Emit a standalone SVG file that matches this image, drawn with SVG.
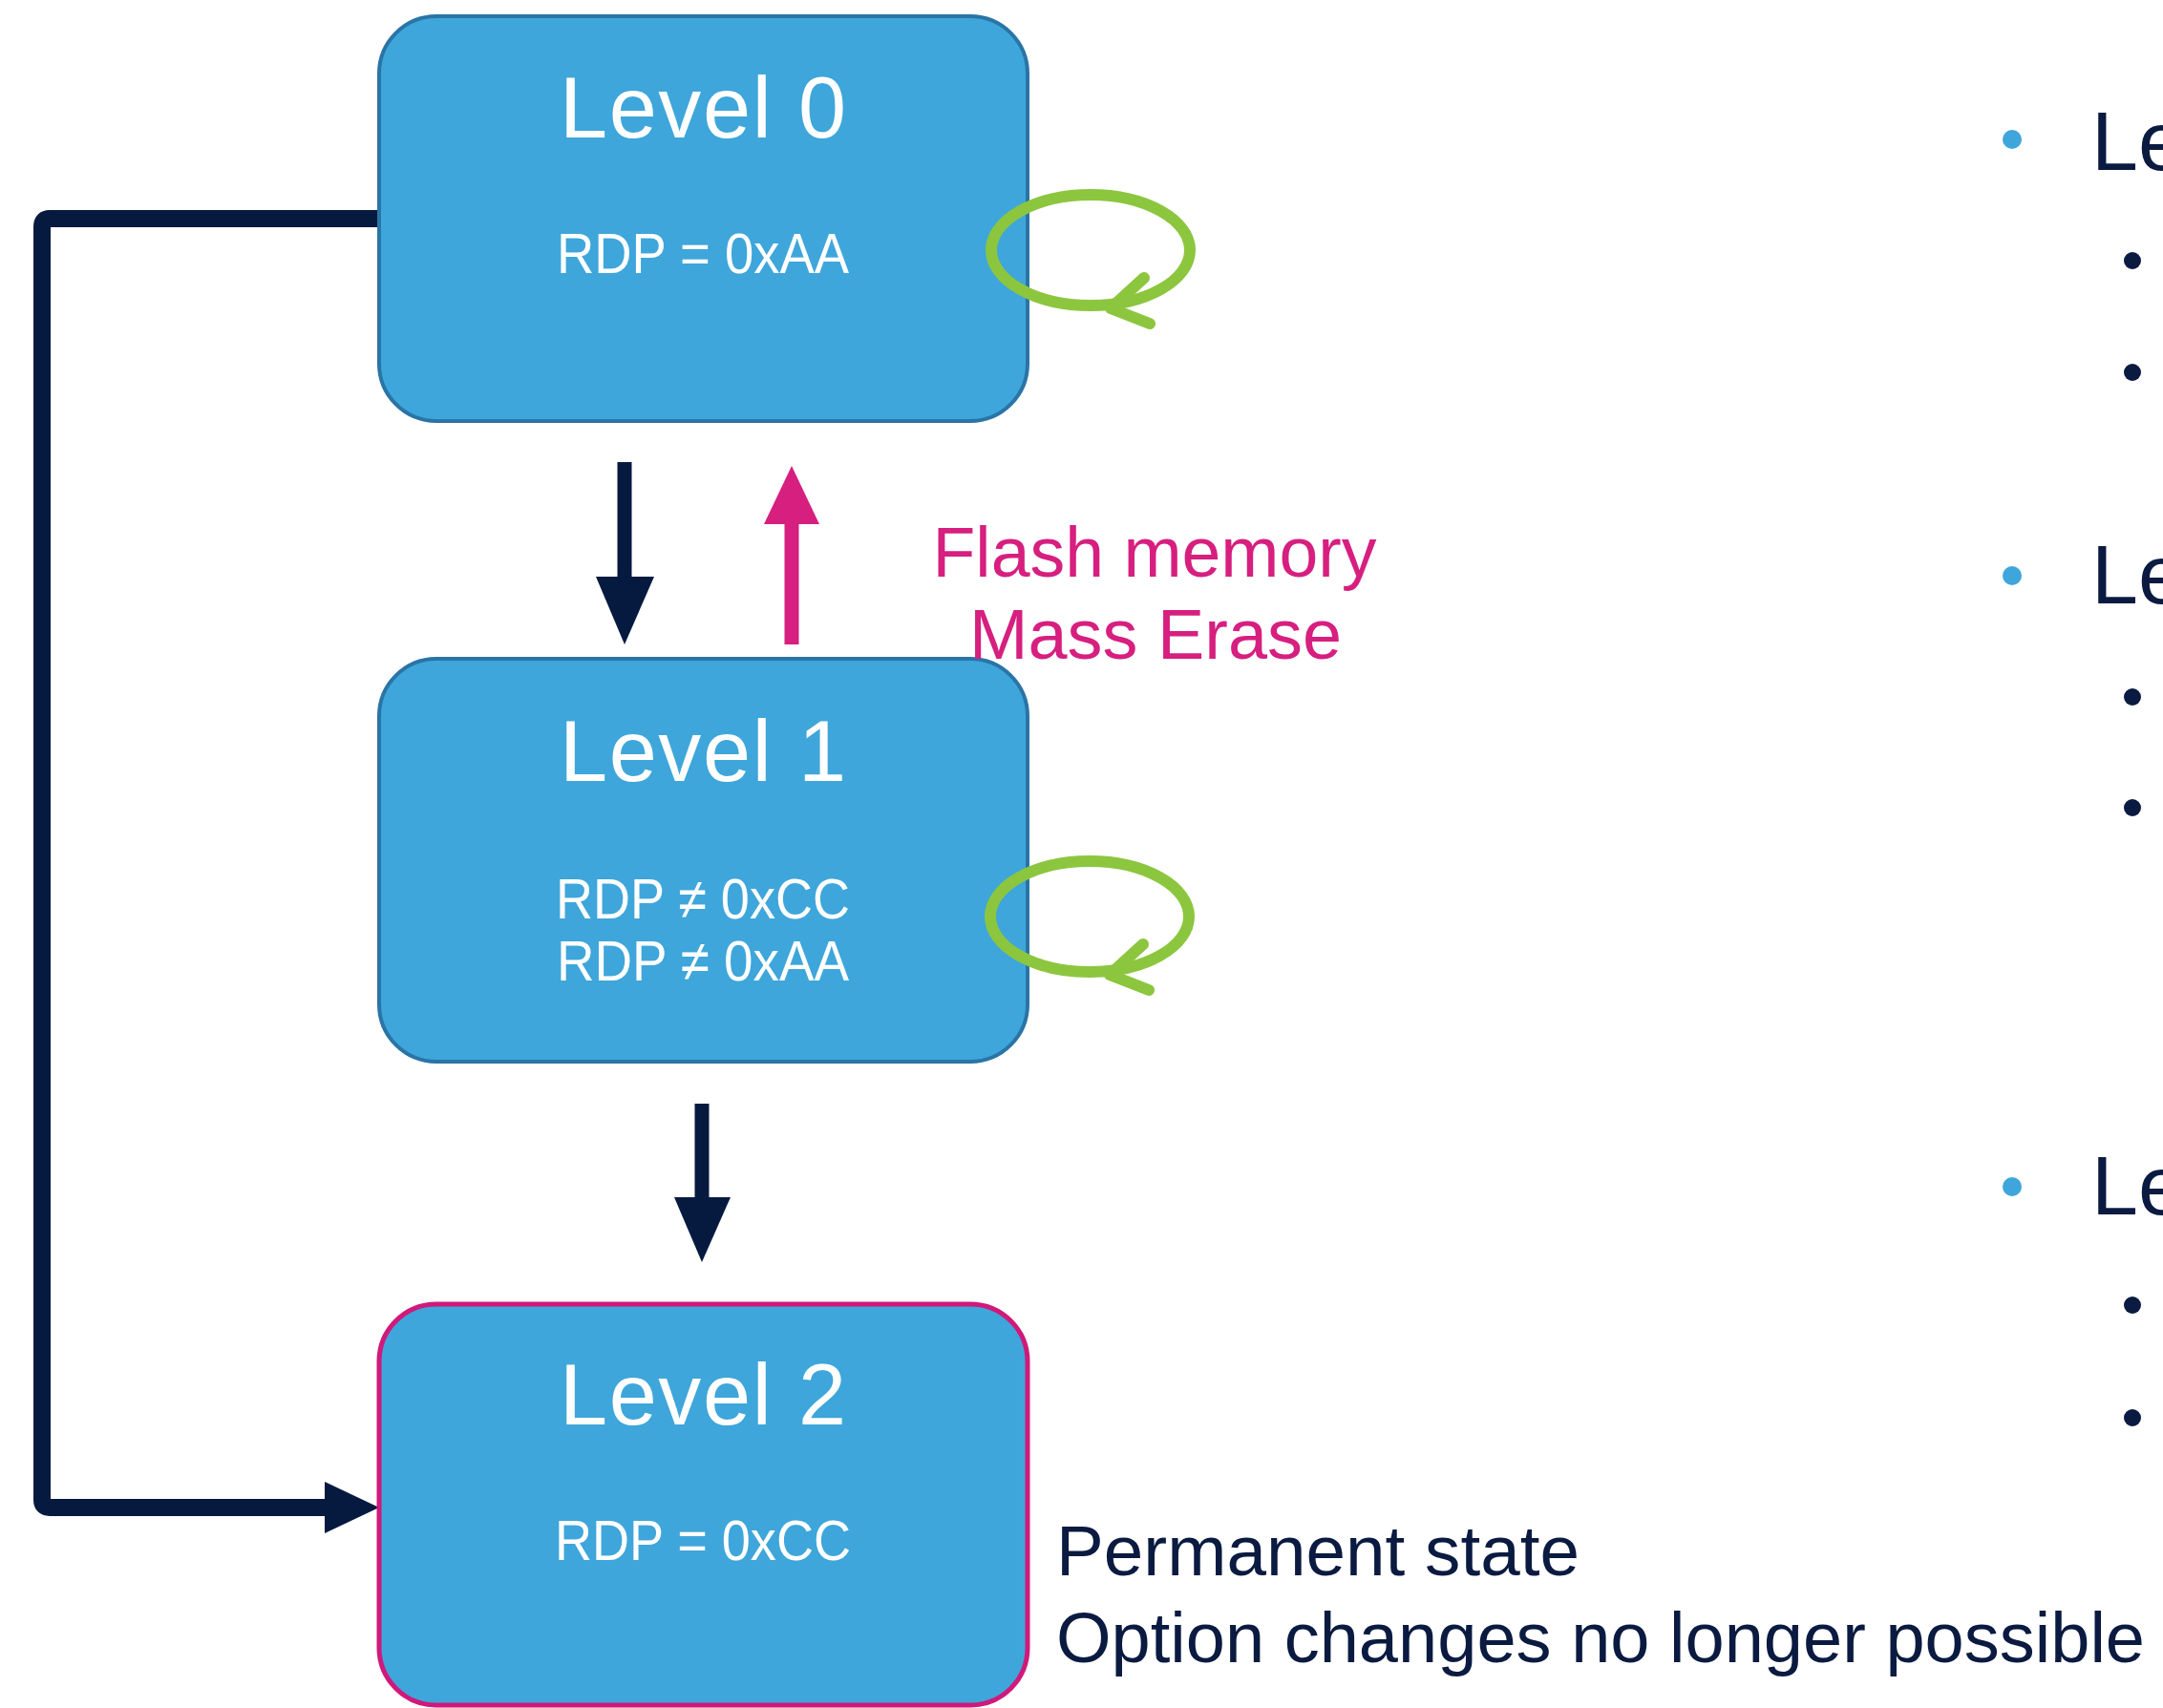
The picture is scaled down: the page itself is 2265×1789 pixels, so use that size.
<svg xmlns="http://www.w3.org/2000/svg" width="2265" height="1789" viewBox="0 0 2265 1789">
<style>
.box{fill:#3ea6da;stroke:#2a74a6;stroke-width:4}
.box2{fill:#3ea6da;stroke:#d0197a;stroke-width:5}
.lvl{font-family:"Liberation Sans",Arial,sans-serif;font-size:90px;fill:#ffffff;text-anchor:middle}
.rdp{font-family:"Liberation Sans",Arial,sans-serif;font-size:60px;fill:#ffffff;text-anchor:middle}
.pink{font-family:"Liberation Sans",Arial,sans-serif;font-size:74px;fill:#d61f7f;text-anchor:middle}
.note{font-family:"Liberation Sans",Arial,sans-serif;font-size:74px;fill:#0a1a40}
.le{font-family:"Liberation Sans",Arial,sans-serif;font-size:88px;fill:#0a1a40}
.dark{stroke:#061a40;fill:none}
.loop{fill:none;stroke:#8cc63f;stroke-width:12;stroke-linecap:round;stroke-linejoin:round}
</style>
<rect width="2265" height="1789" fill="#ffffff"/>
<g id="connectors">
  <path class="dark" d="M397,229 H52 Q44,229 44,237 V1571 Q44,1579 52,1579 H345" stroke-width="18"/>
  <polygon points="340,1552 397,1579 340,1606" fill="#061a40"/>
  <line x1="654" y1="484" x2="654" y2="606" stroke="#061a40" stroke-width="15"/>
  <polygon points="624,604 685,604 654,675" fill="#061a40"/>
  <line x1="829" y1="675" x2="829" y2="547" stroke="#d61f7f" stroke-width="15"/>
  <polygon points="800,549 858,549 829,488" fill="#d61f7f"/>
  <line x1="735" y1="1156" x2="735" y2="1256" stroke="#061a40" stroke-width="15"/>
  <polygon points="706,1254 765,1254 735,1322" fill="#061a40"/>
</g>
<g id="level0">
  <rect class="box" x="397" y="17" width="679" height="424" rx="60" ry="60"/>
  <text class="lvl" x="736" y="144" textLength="300" lengthAdjust="spacing">Level 0</text>
  <text class="rdp" x="736" y="286" textLength="306" lengthAdjust="spacingAndGlyphs">RDP = 0xAA</text>
  <ellipse class="loop" cx="1142" cy="262" rx="104" ry="58"/>
  <polyline class="loop" points="1198,291 1163,323 1204,339"/>
</g>
<g id="level1">
  <rect class="box" x="397" y="690" width="679" height="422" rx="60" ry="60"/>
  <text class="lvl" x="736" y="818" textLength="300" lengthAdjust="spacing">Level 1</text>
  <text class="rdp" x="736" y="962" textLength="308" lengthAdjust="spacingAndGlyphs">RDP ≠ 0xCC</text>
  <text class="rdp" x="736" y="1027" textLength="306" lengthAdjust="spacingAndGlyphs">RDP ≠ 0xAA</text>
  <ellipse class="loop" cx="1141" cy="960" rx="104" ry="58"/>
  <polyline class="loop" points="1197,989 1162,1021 1203,1037"/>
</g>
<g id="level2">
  <rect class="box2" x="397" y="1366" width="679" height="420" rx="60" ry="60"/>
  <text class="lvl" x="736" y="1492" textLength="300" lengthAdjust="spacing">Level 2</text>
  <text class="rdp" x="736" y="1634" textLength="310" lengthAdjust="spacingAndGlyphs">RDP = 0xCC</text>
</g>
<g id="label-erase">
  <text class="pink" x="1209" y="604" textLength="465" lengthAdjust="spacingAndGlyphs">Flash memory</text>
  <text class="pink" x="1210" y="690" textLength="390" lengthAdjust="spacingAndGlyphs">Mass Erase</text>
</g>
<g id="label-permanent">
  <text class="note" x="1106" y="1650" textLength="548" lengthAdjust="spacingAndGlyphs">Permanent state</text>
  <text class="note" x="1106" y="1741" textLength="1140" lengthAdjust="spacingAndGlyphs">Option changes no longer possible</text>
</g>
<g id="bullets">
  <circle cx="2107" cy="146" r="10" fill="#3ea6da"/>
  <text class="le" x="2190" y="178">Le</text>
  <circle cx="2233" cy="273" r="9" fill="#0a1a40"/>
  <circle cx="2233" cy="390" r="9" fill="#0a1a40"/>
  <circle cx="2107" cy="603" r="10" fill="#3ea6da"/>
  <text class="le" x="2190" y="632">Le</text>
  <circle cx="2233" cy="730" r="9" fill="#0a1a40"/>
  <circle cx="2233" cy="846" r="9" fill="#0a1a40"/>
  <circle cx="2107" cy="1243" r="10" fill="#3ea6da"/>
  <text class="le" x="2190" y="1272">Le</text>
  <circle cx="2233" cy="1367" r="9" fill="#0a1a40"/>
  <circle cx="2233" cy="1485" r="9" fill="#0a1a40"/>
</g>
</svg>
